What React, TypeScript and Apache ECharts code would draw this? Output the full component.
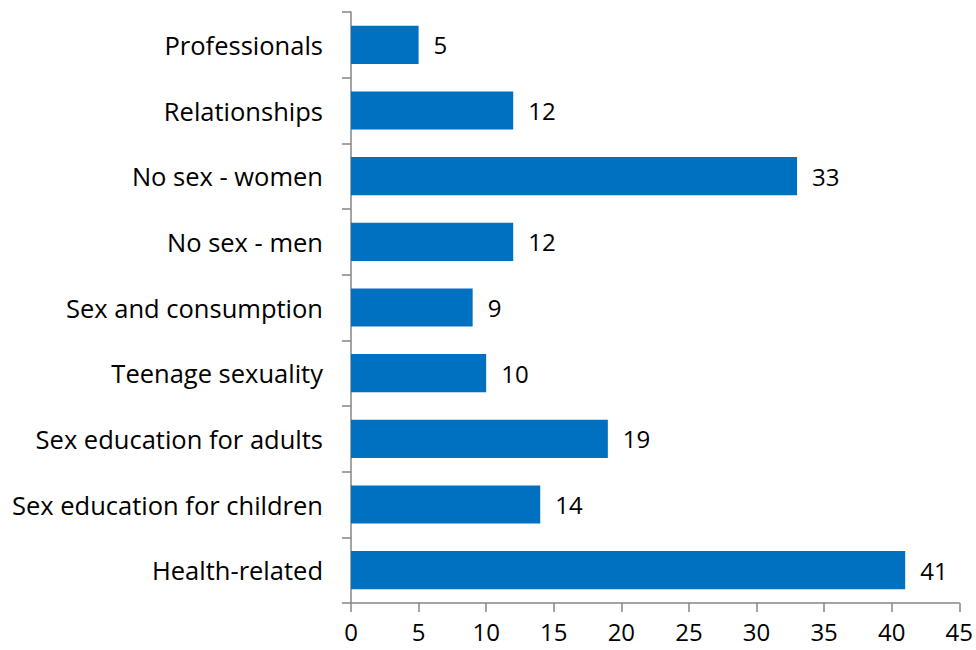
import React, { useEffect, useRef } from "react";
import * as echarts from "echarts";

const categories = [
  "Health-related",
  "Sex education for children",
  "Sex education for adults",
  "Teenage sexuality",
  "Sex and consumption",
  "No sex - men",
  "No sex - women",
  "Relationships",
  "Professionals",
];
const values = [41, 14, 19, 10, 9, 12, 33, 12, 5];
const xMin = 0;
const xMax = 45;
const xInterval = 5;

export default function App() {
  const ref = useRef<HTMLDivElement>(null);
  useEffect(() => {
    if (!ref.current) return;
    const chart = echarts.init(ref.current, undefined, { renderer: "svg" });
    const font = "'Open Sans', sans-serif";
    chart.setOption({
      animation: false,
      backgroundColor: "#ffffff",
      grid: { left: 351, right: 14, top: 12, bottom: 47, containLabel: false },
      xAxis: {
        type: "value",
        min: xMin,
        max: xMax,
        interval: xInterval,
        splitLine: { show: false },
        axisLine: { show: true, lineStyle: { color: "#868686", width: 1.5 } },
        axisTick: { show: true, length: 9, lineStyle: { color: "#868686", width: 1.5 } },
        axisLabel: { color: "#000", fontSize: 24, fontFamily: font, margin: 16 },
      },
      yAxis: {
        type: "category",
        data: categories,
        axisLine: { show: true, lineStyle: { color: "#868686", width: 1.5 } },
        axisTick: { show: true, length: 9, lineStyle: { color: "#868686", width: 1.5 } },
        axisLabel: { color: "#000", fontSize: 25.5, fontFamily: font, margin: 28 },
      },
      series: [
        {
          type: "bar",
          data: values,
          barCategoryGap: "42%",
          itemStyle: { color: "#0070C0" },
          label: {
            show: true,
            position: "right",
            distance: 15,
            color: "#000",
            fontSize: 24,
            fontFamily: font,
          },
        },
      ],
    });
    return () => chart.dispose();
  }, []);
  return (
    <div
      ref={ref}
      style={{ position: "fixed", left: 0, top: 0, width: 976, height: 650 }}
    />
  );
}
